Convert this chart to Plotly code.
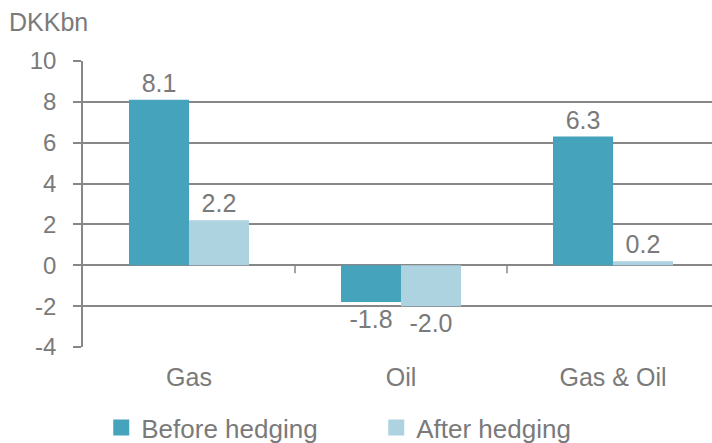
import plotly.graph_objects as go

categories = ["Gas", "Oil", "Gas & Oil"]
before_hedging = [8.1, -1.8, 6.3]
after_hedging = [2.2, -2.0, 0.2]
y_ticks = [-4, -2, 0, 2, 4, 6, 8, 10]
y_tick_text = [str(v) for v in y_ticks]

BEFORE = "#46A3BC"
AFTER = "#ADD3E1"
GRAY = "#878787"
TEXT = "#7a7a7a"
FONT = "Liberation Sans, Arial, sans-serif"


def labels(values):
    return [f"{v:.1f}" for v in values]


fig = go.Figure()
for name, vals, col in [("Before hedging", before_hedging, BEFORE),
                        ("After hedging", after_hedging, AFTER)]:
    fig.add_trace(go.Bar(
        x=categories, y=vals, name=name, showlegend=False,
        marker=dict(color=col, line=dict(width=0)),
        text=labels(vals), texttemplate="%{text}", textposition="outside",
        textfont=dict(color=TEXT, size=25, family=FONT), cliponaxis=False,
    ))
# legend entries with larger square swatches
for name, col in [("Before hedging", BEFORE), ("After hedging", AFTER)]:
    fig.add_trace(go.Scatter(
        x=[None], y=[None], mode="markers", name=name,
        marker=dict(symbol="square", size=17, color=col),
    ))

# small category separators hanging from the zero line
for b in [0.5, 1.5]:
    fig.add_shape(type="line", xref="x", yref="y", x0=b, x1=b,
                  ysizemode="pixel", yanchor=0, y0=0, y1=-8,
                  line=dict(color=GRAY, width=1.5), layer="above")

fig.add_annotation(text="DKKbn", xref="paper", yref="paper",
                   x=-0.121, y=1.136, xanchor="left", yanchor="middle",
                   showarrow=False, font=dict(color=TEXT, size=25, family=FONT))

fig.update_layout(
    width=712, height=443,
    margin=dict(l=83, r=0, t=61, b=96, autoexpand=False),
    paper_bgcolor="white", plot_bgcolor="white",
    barmode="group", bargap=0.434, bargroupgap=0,
    font=dict(family=FONT, color=TEXT, size=24),
    showlegend=True,
    legend=dict(orientation="h", x=0.029, xanchor="left", y=-0.2, yanchor="top",
                entrywidth=230, entrywidthmode="pixels",
                font=dict(size=26, color=TEXT, family=FONT),
                itemsizing="trace", traceorder="normal", itemwidth=30),
    xaxis=dict(range=[-0.5, 2.467], showgrid=False, showline=False, zeroline=False,
               ticks="", tickfont=dict(size=25, color=TEXT), ticklabelstandoff=13,
               fixedrange=True),
    yaxis=dict(range=[-4, 10], tickvals=y_ticks, ticktext=y_tick_text,
               showgrid=True, gridcolor=GRAY,
               gridwidth=1.5, zeroline=True, zerolinecolor=GRAY, zerolinewidth=1.5,
               showline=True, linecolor=GRAY, linewidth=1.5,
               ticks="outside", ticklen=8, tickcolor=GRAY, tickwidth=1.5,
               tickfont=dict(size=24, color=TEXT), ticklabelstandoff=12,
               fixedrange=True),
)

fig.write_html("out.html")
